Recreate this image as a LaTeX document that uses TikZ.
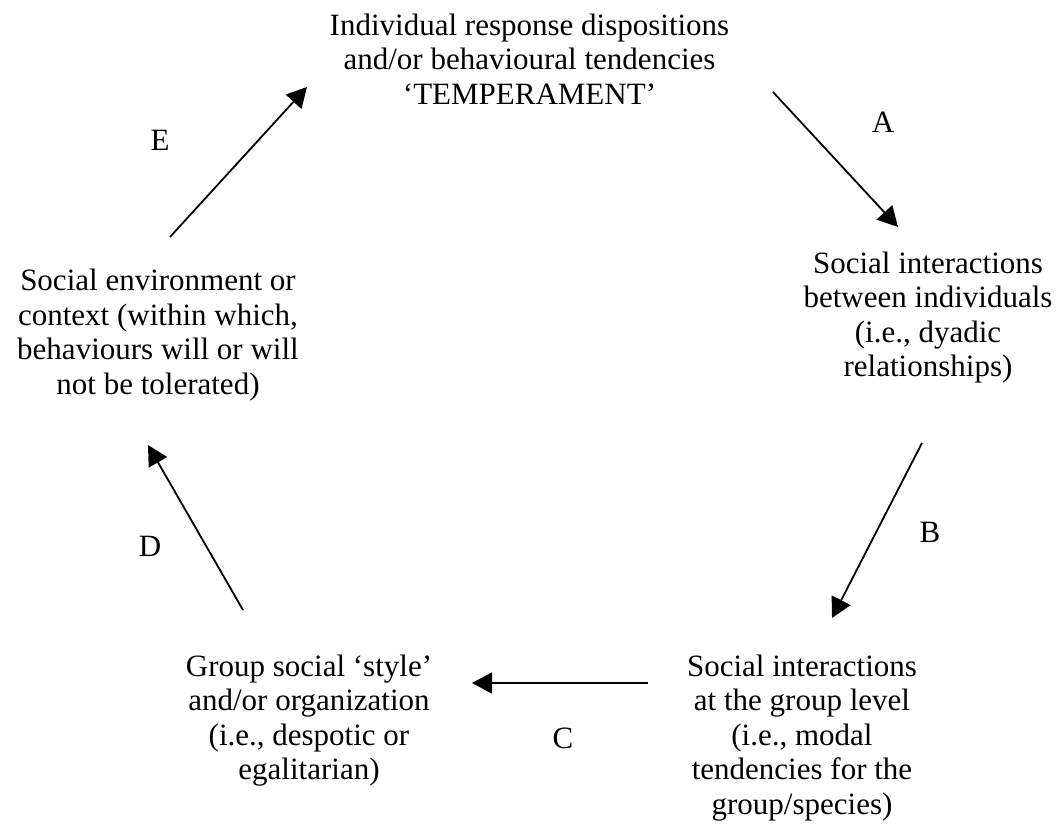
\documentclass[tikz,border=0pt]{standalone}
\usepackage{fontspec}
\setmainfont{Liberation Serif}
\usetikzlibrary{arrows.meta}
\begin{document}
\begin{tikzpicture}[x=1pt,y=-1pt,
  txt/.style={inner sep=0pt,outer sep=0pt,align=center,anchor=north,
    font=\fontsize{31}{34.5}\selectfont},
  lbl/.style={inner sep=0pt,outer sep=0pt,anchor=center,
    font=\fontsize{31}{34.5}\selectfont},
  arr/.style={line width=1.8pt,-{Triangle[length=20pt,width=21pt]}}]
\useasboundingbox (0,0) rectangle (1062,827);
\node[txt] (top) at (529.5,13.6) {Individual response dispositions\\and/or behavioural tendencies\\‘TEMPERAMENT’};
\node[txt] (right) at (928,251.6) {Social interactions\\between individuals\\(i.e., dyadic\\relationships)};
\node[txt] (br) at (802,654.6) {Social interactions\\at the group level\\(i.e., modal\\tendencies for the\\group/species)};
\node[txt] (bl) at (309,654.6) {Group social ‘style’\\and/or organization\\(i.e., despotic or\\egalitarian)};
\node[txt] (left) at (158,269) {Social environment or\\context (within which,\\behaviours will or will\\not be tolerated)};
\node[lbl] (la) at (883,122) {A};
\node[lbl] (lb) at (930,532) {B};
\node[lbl] (lc) at (563,738) {C};
\node[lbl] (ld) at (150,546) {D};
\node[lbl] (le) at (160,140) {E};
\coordinate (a1) at (773,92);  \coordinate (a2) at (898,227);
\coordinate (b1) at (922,443); \coordinate (b2) at (832,618);
\coordinate (c1) at (648,683); \coordinate (c2) at (472,683);
\coordinate (d1) at (243,610); \coordinate (d2) at (148,445);
\coordinate (e1) at (170,237); \coordinate (e2) at (307,87);
\draw[arr] (a1) -- (a2);
\draw[arr] (b1) -- (b2);
\draw[arr] (c1) -- (c2);
\draw[arr] (d1) -- (d2);
\draw[arr] (e1) -- (e2);
\end{tikzpicture}
\end{document}
